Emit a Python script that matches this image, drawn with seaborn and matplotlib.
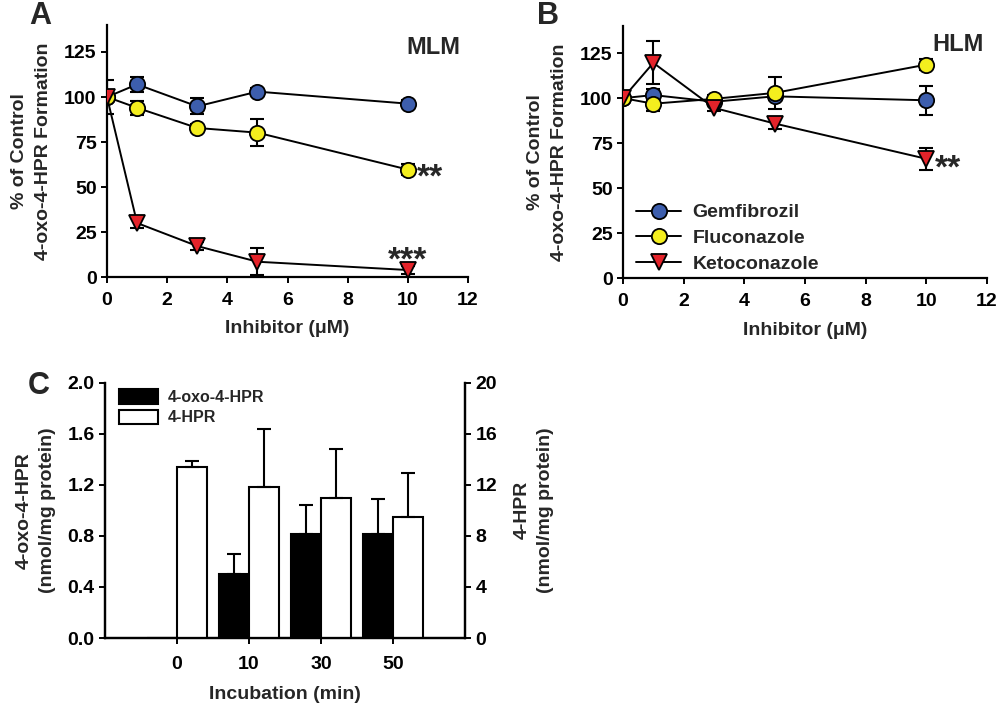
import numpy as np
import pandas as pd
import matplotlib
matplotlib.use("Agg")
import matplotlib.pyplot as plt
from matplotlib.lines import Line2D
from matplotlib.patches import Patch
import seaborn as sns

# ---------------- data ----------------
conc = [0, 1, 3, 5, 10]
drugs = ["Gemfibrozil", "Fluconazole", "Ketoconazole"]

mlm_gem = [100, 107, 94.8, 103, 96.3]
mlm_gem_err = [2, 4, 4.5, 2, 2]
mlm_flu = [100, 94, 82.8, 80.2, 59.7]
mlm_flu_err = [2, 4, 2, 7.5, 3]
mlm_keto = [100, 30, 17.2, 8.5, 3.9]
mlm_keto_err = [9.5, 3, 2, 7.5, 2]

hlm_gem = [100, 101.7, 98, 101, 98.8]
hlm_gem_err = [2, 3.5, 2, 2, 8]
hlm_flu = [100, 96.9, 99.6, 102.9, 118.6]
hlm_flu_err = [2, 4, 2, 9, 3]
hlm_keto = [100, 119.6, 94.6, 85.9, 66.3]
hlm_keto_err = [2, 12, 2, 3, 6]

incubation = ["0", "10", "30", "50"]
oxo = [0.0, 0.50, 0.815, 0.815]
oxo_err = [0.0, 0.16, 0.225, 0.275]
hpr = [13.4, 11.8, 11.0, 9.45]
hpr_err = [0.5, 4.6, 3.8, 3.5]

# ---------------- style ----------------
sns.set_style("ticks")
plt.rcParams["font.family"] = ["Liberation Sans", "DejaVu Sans"]
plt.rcParams["font.weight"] = "bold"
plt.rcParams["axes.labelweight"] = "bold"
plt.rcParams["axes.linewidth"] = 1.6
plt.rcParams["xtick.major.width"] = 1.4
plt.rcParams["ytick.major.width"] = 1.4
plt.rcParams["xtick.major.size"] = 4
plt.rcParams["ytick.major.size"] = 4
plt.rcParams["xtick.color"] = "black"
plt.rcParams["ytick.color"] = "black"
plt.rcParams["axes.edgecolor"] = "black"

colors = {"Gemfibrozil": "#3D5EAD", "Fluconazole": "#F4EE1E", "Ketoconazole": "#E4232A"}
markers = {"Gemfibrozil": "o", "Fluconazole": "o", "Ketoconazole": "v"}
msize = 11

fig = plt.figure(figsize=(10, 7.06), dpi=100)
axA = fig.add_axes([0.107, 0.6076, 0.361, 0.357])
axB = fig.add_axes([0.623, 0.606, 0.364, 0.357])
axC = fig.add_axes([0.105, 0.0963, 0.360, 0.3616])

TICK_FS = 14
LABEL_FS = 14


def draw_panel(ax, series):
    for name, (vals, errs) in zip(drugs, series):
        ax.errorbar(conc, vals, yerr=errs, fmt="none", ecolor="black",
                    elinewidth=1.5, capsize=5, capthick=1.5, zorder=2)
        sns.lineplot(x=conc, y=vals, ax=ax, color="black", lw=1.4,
                     marker=markers[name], markersize=msize,
                     markerfacecolor=colors[name], markeredgecolor="black",
                     markeredgewidth=1.3, zorder=3, legend=False)
    ax.set_xlim(0, 12)
    ax.set_ylim(0, 140)
    ax.set_xticks(range(0, 13, 2))
    ax.set_yticks([0, 25, 50, 75, 100, 125])
    ax.tick_params(labelsize=TICK_FS, direction="out")
    ax.tick_params(axis="x", pad=7)
    for lab in ax.get_xticklabels() + ax.get_yticklabels():
        lab.set_fontweight("bold")
    ax.set_xlabel("Inhibitor (\u03bcM)", fontsize=LABEL_FS, fontweight="bold", labelpad=8)
    ax.set_ylabel("% of Control\n4-oxo-4-HPR Formation", fontsize=LABEL_FS,
                  fontweight="bold", labelpad=9, linespacing=1.5)
    sns.despine(ax=ax)


draw_panel(axA, [(mlm_gem, mlm_gem_err), (mlm_flu, mlm_flu_err), (mlm_keto, mlm_keto_err)])
draw_panel(axB, [(hlm_gem, hlm_gem_err), (hlm_flu, hlm_flu_err), (hlm_keto, hlm_keto_err)])

axA.text(10.85, 127.5, "MLM", fontsize=17, fontweight="bold", ha="center", va="center")
axB.text(11.05, 130, "HLM", fontsize=17, fontweight="bold", ha="center", va="center")
axA.text(10.3, 50.5, "**", fontsize=24, fontweight="bold", ha="left", va="baseline")
axA.text(10.0, 4.0, "***", fontsize=24, fontweight="bold", ha="center", va="baseline")
axB.text(10.29, 56, "**", fontsize=24, fontweight="bold", ha="left", va="baseline")

handles = [Line2D([0], [0], color="black", lw=1.4, marker=markers[d], markersize=msize,
                  markerfacecolor=colors[d], markeredgecolor="black", markeredgewidth=1.3)
           for d in drugs]
axB.legend(handles, drugs, loc="lower left", bbox_to_anchor=(0.015, -0.01), frameon=False,
           prop={"size": 14, "weight": "bold"}, handlelength=2.3, handletextpad=0.6,
           labelspacing=0.42, borderaxespad=0.0)

# ---------------- panel C ----------------
dfC_oxo = pd.DataFrame({"Incubation": incubation, "value": oxo,
                        "series": ["4-oxo-4-HPR"] * 4})
dfC_hpr = pd.DataFrame({"Incubation": incubation, "value": hpr,
                        "series": ["4-HPR"] * 4})
hue_order = ["4-oxo-4-HPR", "4-HPR"]
pal = {"4-oxo-4-HPR": "black", "4-HPR": "white"}

axC2 = axC.twinx()
sns.barplot(data=dfC_oxo, x="Incubation", y="value", hue="series", hue_order=hue_order,
            palette=pal, ax=axC, width=0.84, edgecolor="black", linewidth=1.5,
            errorbar=None, legend=False, order=incubation, dodge=True)
sns.barplot(data=dfC_hpr, x="Incubation", y="value", hue="series", hue_order=hue_order,
            palette=pal, ax=axC2, width=0.84, edgecolor="black", linewidth=1.5,
            errorbar=None, legend=False, order=incubation, dodge=True)

# error bars (upper only) at bar centres
for ax, vals, errs in [(axC, oxo, oxo_err), (axC2, hpr, hpr_err)]:
    for p, v, e in zip(ax.patches, vals, errs):
        if e > 0:
            xc = p.get_x() + p.get_width() / 2
            ax.errorbar([xc], [v], yerr=[[0], [e]], fmt="none", ecolor="black",
                        elinewidth=1.5, capsize=5, capthick=1.5, zorder=1)

axC.set_xlim(-1, 4)
axC.set_ylim(0, 2.0)
axC2.set_ylim(0, 20)
axC.set_yticks([0.0, 0.4, 0.8, 1.2, 1.6, 2.0])
axC.set_yticklabels(["0.0", "0.4", "0.8", "1.2", "1.6", "2.0"])
axC2.set_yticks([0, 4, 8, 12, 16, 20])
for ax in (axC, axC2):
    ax.tick_params(labelsize=TICK_FS, direction="out")
    ax.tick_params(axis="x", pad=9)
    for lab in ax.get_xticklabels() + ax.get_yticklabels():
        lab.set_fontweight("bold")
    ax.spines["top"].set_visible(False)
axC.set_xlabel("Incubation (min)", fontsize=LABEL_FS, fontweight="bold", labelpad=9)
axC.set_ylabel("4-oxo-4-HPR\n(nmol/mg protein)", fontsize=LABEL_FS, fontweight="bold",
               labelpad=8, linespacing=1.5)
axC2.set_ylabel("4-HPR\n(nmol/mg protein)", fontsize=LABEL_FS, fontweight="bold",
                labelpad=12, linespacing=1.5)

legC = [Patch(facecolor="black", edgecolor="black", lw=1.5, label="4-oxo-4-HPR"),
        Patch(facecolor="white", edgecolor="black", lw=1.5, label="4-HPR")]
axC.legend(handles=legC, loc="upper left", bbox_to_anchor=(0.0, 1.03), frameon=False,
           prop={"size": 11.5, "weight": "bold"}, handlelength=2.4, handleheight=1.0,
           handletextpad=0.6, labelspacing=0.3)

# panel letters
fig.text(0.040, 0.977, "A", fontsize=22, fontweight="bold", ha="center", va="center")
fig.text(0.548, 0.977, "B", fontsize=22, fontweight="bold", ha="center", va="center")
fig.text(0.039, 0.453, "C", fontsize=22, fontweight="bold", ha="center", va="center")

fig.savefig("out.png", dpi=100)
